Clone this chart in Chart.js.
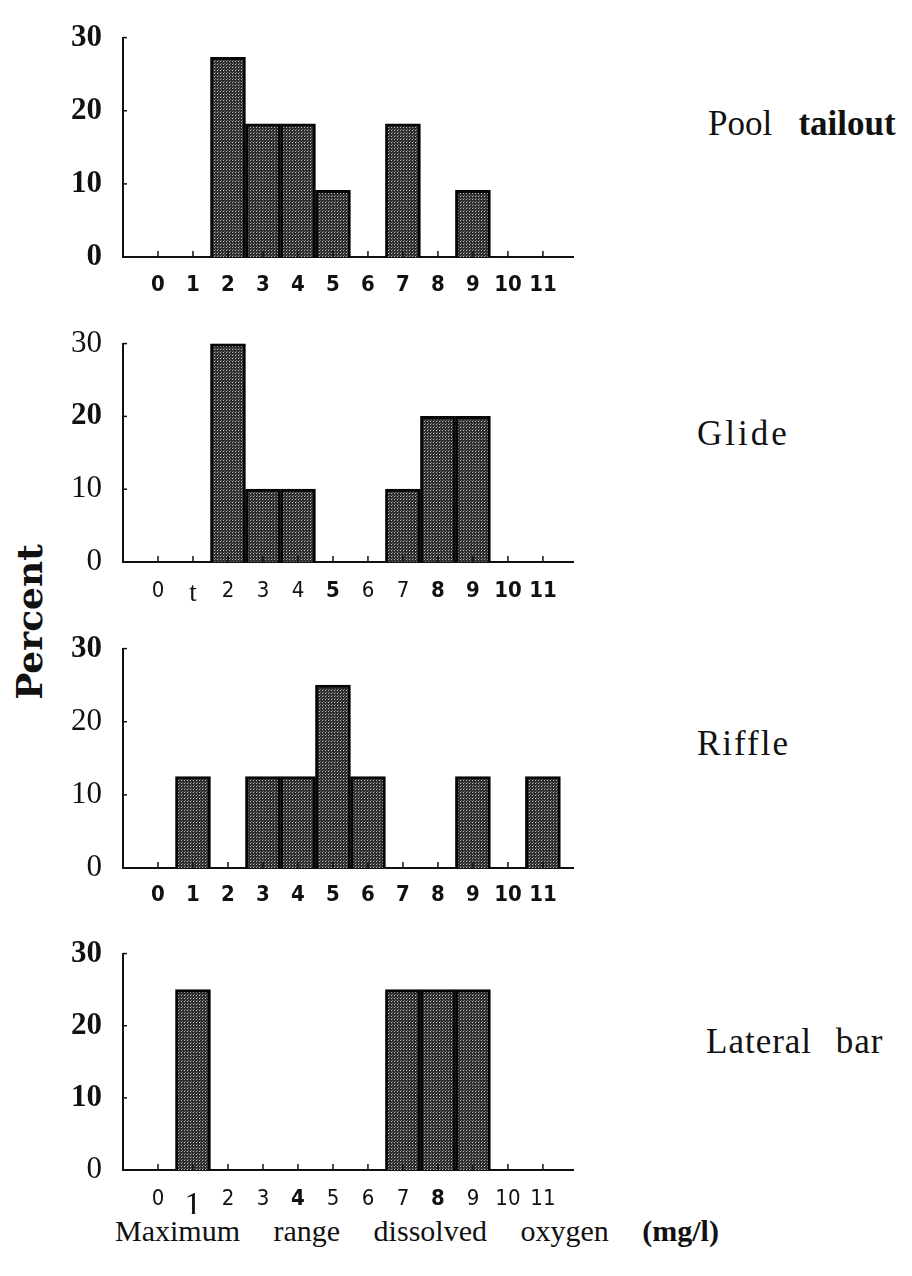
<!DOCTYPE html>
<html>
<head>
<meta charset="utf-8">
<script src="https://cdn.jsdelivr.net/npm/chart.js@4.4.0/dist/chart.umd.min.js"></script>
<style>
  body { margin: 0; background: #fff; width: 912px; height: 1276px; position: relative; overflow: hidden; font-family: 'Liberation Serif', 'Times New Roman', serif; color: #111; }
  canvas { position: absolute; left: 60px; }
  .lbl { position: absolute; font-size: 35px; line-height: 1; white-space: nowrap; }
  .b { font-weight: bold; }
</style>
</head>
<body>
<canvas id="p1" width="530" height="291"></canvas>
<canvas id="p2" width="530" height="290"></canvas>
<canvas id="p3" width="530" height="291"></canvas>
<canvas id="p4" width="530" height="288"></canvas>

<div class="lbl" style="left:708px;top:106px;">Pool&nbsp;&nbsp; <span class="b">tailout</span></div>
<div class="lbl" style="left:697px;top:416px;letter-spacing:3px;">Glide</div>
<div class="lbl" style="left:697px;top:726px;letter-spacing:2px;">Riffle</div>
<div class="lbl" style="left:706px;top:1024px;letter-spacing:1px;word-spacing:14px;">Lateral bar</div>
<div class="lbl b" style="left:29px;top:622px;font-family:'DejaVu Serif',serif;font-size:36px;transform:translate(-50%,-50%) rotate(-90deg);">Percent</div>
<div class="lbl" style="left:115px;top:1216px;font-size:30px;word-spacing:26px;">Maximum range dissolved oxygen <span class="b">(mg/l)</span></div>

<script>
// oxygen bins (mg/l)
const bins = [0, 1, 2, 3, 4, 5, 6, 7, 8, 9, 10, 11];

// percent of sites per bin
const poolTailout = [0, 0, 27.3, 18.2, 18.2, 9.1, 0, 18.2, 0, 9.1, 0, 0];
const glide = [0, 0, 30, 10, 10, 0, 0, 10, 20, 20, 0, 0];
const riffle = [0, 12.5, 0, 12.5, 12.5, 25, 12.5, 0, 0, 12.5, 0, 12.5];
const lateralBar = [0, 25, 0, 0, 0, 0, 0, 25, 25, 25, 0, 0];

const yTicks = [0, 10, 20, 30];

// tick labels as printed (scan quirks kept)
const xLabels1 = ['0', '1', '2', '3', '4', '5', '6', '7', '8', '9', '10', '11'];
const xLabels2 = ['0', 't', '2', '3', '4', '5', '6', '7', '8', '9', '10', '11'];
const xLabels3 = ['0', '1', '2', '3', '4', '5', '6', '7', '8', '9', '10', '11'];
const xLabels4 = ['0', '1', '2', '3', '4', '5', '6', '7', '8', '9', '10', '11'];

// which labels look bold in the scan
const xBold1 = [1, 1, 1, 1, 1, 1, 1, 1, 1, 1, 1, 1];
const xBold2 = [0, 0, 0, 0, 0, 1, 0, 0, 1, 1, 1, 1];
const xBold3 = [1, 1, 1, 1, 1, 1, 1, 1, 1, 1, 1, 1];
const xBold4 = [0, 0, 0, 0, 1, 0, 0, 0, 1, 0, 0, 0];
const yBold1 = [1, 1, 1, 1];
const yBold2 = [0, 0, 1, 0];
const yBold3 = [0, 0, 0, 1];
const yBold4 = [0, 1, 1, 1];

// halftone-ish fill like the printed bars
function halftone() {
  const c = document.createElement('canvas');
  c.width = 3; c.height = 3;
  const g = c.getContext('2d');
  g.fillStyle = '#2e2e2e';
  g.fillRect(0, 0, 3, 3);
  g.fillStyle = '#bdbdbd';
  g.fillRect(1, 1, 1, 1);
  g.fillStyle = '#707070';
  g.fillRect(2, 0, 1, 1);
  return g.createPattern(c, 'repeat');
}
const fill = halftone();

// small inward ticks, as on the original axes
const innerTicks = {
  id: 'innerTicks',
  afterDatasetsDraw(chart) {
    const { ctx, scales: { x, y } } = chart;
    const y0 = y.getPixelForValue(0);
    ctx.save();
    ctx.strokeStyle = '#111';
    ctx.lineWidth = 1.5;
    bins.forEach(v => {
      const px = x.getPixelForValue(v);
      ctx.beginPath(); ctx.moveTo(px, y0); ctx.lineTo(px, y0 - 6); ctx.stroke();
    });
    yTicks.slice(1).forEach(v => {
      const py = y.getPixelForValue(v);
      ctx.beginPath(); ctx.moveTo(x.left, py); ctx.lineTo(x.left + 4, py); ctx.stroke();
    });
    ctx.restore();
  }
};

function makePanel(id, top, plotH, values, xLabels, xBold, yBold, xPad) {
  const cv = document.getElementById(id);
  const padTop = 20;
  cv.style.top = (top - padTop) + 'px';
  cv.height = padTop + plotH + 44;
  new Chart(cv, {
    type: 'bar',
    data: {
      datasets: [{
        data: bins.map((b, i) => ({ x: b, y: values[i] })),
        backgroundColor: fill,
        borderColor: '#050505',
        borderWidth: 3,
        borderSkipped: 'bottom',
        barPercentage: 1,
        categoryPercentage: 1,
      }]
    },
    options: {
      responsive: false,
      animation: false,
      events: [],
      layout: { padding: { top: padTop, right: 17, left: 0, bottom: 0 } },
      plugins: { legend: { display: false }, tooltip: { enabled: false } },
      scales: {
        x: {
          type: 'linear',
          offset: false,
          min: -1,
          max: 11.86,
          afterBuildTicks: (s) => { s.ticks = bins.map(v => ({ value: v })); },
          afterFit: (s) => { s.height = 44; },
          grid: { display: false },
          border: { display: true, color: '#111', width: 2 },
          ticks: {
            autoSkip: false,
            maxRotation: 0,
            padding: xPad,
            color: '#111',
            callback: (v, i) => xLabels[i],
            font: (c) => {
              const i = c.index;
              const lab = xLabels[i];
              if (lab === 't' || (id === 'p4' && lab === '1')) {
                return { family: "'Liberation Serif', serif", size: lab === 't' ? 27 : 34, weight: 'normal' };
              }
              return { family: "'Liberation Sans Narrow', 'DejaVu Sans Condensed', sans-serif", size: 22, weight: xBold[i] ? 'bold' : 'normal' };
            }
          }
        },
        y: {
          min: 0,
          max: 30,
          afterBuildTicks: (s) => { s.ticks = yTicks.map(v => ({ value: v })); },
          afterFit: (s) => { s.width = 63; },
          grid: { display: false },
          border: { display: true, color: '#111', width: 2 },
          ticks: {
            padding: 13,
            color: '#111',
            font: (c) => ({ family: "'Liberation Serif', serif", size: 31, weight: yBold[c.index] ? 'bold' : 'normal' })
          }
        }
      }
    },
    plugins: [innerTicks]
  });
}

makePanel('p1', 26, 231, poolTailout, xLabels1, xBold1, yBold1, 7);
makePanel('p2', 332, 230, glide, xLabels2, xBold2, yBold2, 8);
makePanel('p3', 637, 231, riffle, xLabels3, xBold3, yBold3, 6);
makePanel('p4', 942, 228, lateralBar, xLabels4, xBold4, yBold4, 8);
</script>
</body>
</html>
